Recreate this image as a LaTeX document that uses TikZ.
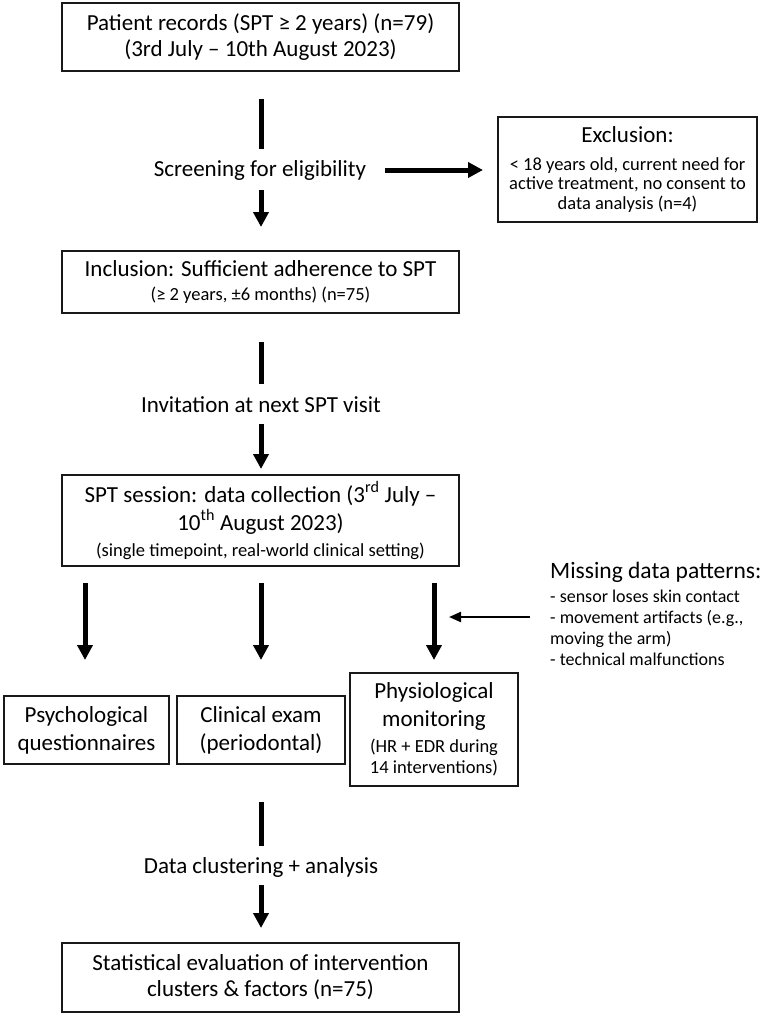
\documentclass[tikz,border=0pt]{standalone}
\usepackage{fontspec}
\setmainfont{Carlito}
\usetikzlibrary{arrows.meta}
\newcommand\fA{\fontsize{23}{26}\selectfont}
\newcommand\fS{\fontsize{18.5}{19.5}\selectfont}
\newcommand\fB{\fontsize{23}{28}\selectfont}
\begin{document}
\begin{tikzpicture}[x=1pt,y=-1pt,
  box/.style={draw=black!90, line width=1.8pt, align=center, inner sep=0pt, font=\fA},
  lbl/.style={inner sep=0pt, font=\fA},
  bar/.style={line width=5pt},
  arr/.style={line width=5pt, -{Triangle[width=15pt,length=15pt]}},
  thinarr/.style={line width=2.2pt, -{Triangle[width=10pt,length=12pt]}},
]
\useasboundingbox (0,0) rectangle (761,1015);

% boxes
\node[box, minimum width=397pt, minimum height=68pt] (records) at (260.5,37)
  {Patient records (SPT ≥ 2 years) (n=79)\\(3rd July – 10th August 2023)};
\node[box, minimum width=259pt, minimum height=105pt, font=\fS] (excl) at (627.5,169.5)
  {{\fA Exclusion:}\\[8pt]
   {< 18 years old, current need for}\\ {active treatment, no consent to}\\ {data analysis (n=4)}};
\node[box, minimum width=397pt, minimum height=62pt, font=\fS] (incl) at (260.5,282)
  {{\fA Inclusion: Sufficient adherence to SPT}\\[5pt] (≥ 2 years, ±6 months) (n=75)};
\node[box, minimum width=397pt, minimum height=91pt, font=\fB] (spt) at (260.5,520.5)
  {SPT session: data collection (3\textsuperscript{rd} July –\\
   10\textsuperscript{th} August 2023)\\[-2pt] {\fS (single timepoint, real-world clinical setting)}};
\node[box, minimum width=165pt, minimum height=68pt, font=\fB] (psych) at (86.5,730)
  {Psychological\\questionnaires};
\node[box, minimum width=168pt, minimum height=68pt, font=\fB] (clin) at (261,730)
  {Clinical exam\\(periodontal)};
\node[box, minimum width=168pt, minimum height=113pt, font={\fontsize{18.5}{21}\selectfont}] (phys) at (434,729.5)
  {{\fA Physiological}\\[7pt]{\fA monitoring}\\[5pt] (HR + EDR during\\ 14 interventions)};
\node[box, minimum width=397pt, minimum height=69pt] (stat) at (260.5,977.5)
  {Statistical evaluation of intervention\\clusters \& factors (n=75)};

% labels
\node[lbl] (screen) at (260,170) {Screening for eligibility};
\node[lbl] (invite) at (261,405) {Invitation at next SPT visit};
\node[lbl] (clust) at (261,867) {Data clustering + analysis};
\node[inner sep=0pt, align=left, anchor=north west, font={\fontsize{18}{21}\selectfont}] (missing) at (550,562)
  {{\fontsize{23.5}{26}\selectfont Missing data patterns:}\\[3pt]
   - sensor loses skin contact\\ - movement artifacts (e.g.,\\ moving the arm)\\ - technical malfunctions};

% connector coordinates
\coordinate (s1a) at (261,99);  \coordinate (s1b) at (261,149);
\coordinate (a1a) at (261,190); \coordinate (a1b) at (261,227);
\coordinate (h1a) at (385,170); \coordinate (h1b) at (483,170);
\coordinate (s2a) at (261,342); \coordinate (s2b) at (261,384);
\coordinate (a2a) at (261,424); \coordinate (a2b) at (261,469);
\coordinate (p1a) at (85,583);  \coordinate (p1b) at (85,660);
\coordinate (p2a) at (261,583); \coordinate (p2b) at (261,660);
\coordinate (p3a) at (434,583); \coordinate (p3b) at (434,660);
\coordinate (ma) at (530,617);  \coordinate (mb) at (449,617);
\coordinate (s3a) at (261,802); \coordinate (s3b) at (261,846);
\coordinate (a3a) at (261,885); \coordinate (a3b) at (261,928);

\draw[bar] (s1a) -- (s1b);
\draw[arr] (a1a) -- (a1b);
\draw[arr] (h1a) -- (h1b);
\draw[bar] (s2a) -- (s2b);
\draw[arr] (a2a) -- (a2b);
\draw[arr] (p1a) -- (p1b);
\draw[arr] (p2a) -- (p2b);
\draw[arr] (p3a) -- (p3b);
\draw[thinarr] (ma) -- (mb);
\draw[bar] (s3a) -- (s3b);
\draw[arr] (a3a) -- (a3b);
\end{tikzpicture}
\end{document}
